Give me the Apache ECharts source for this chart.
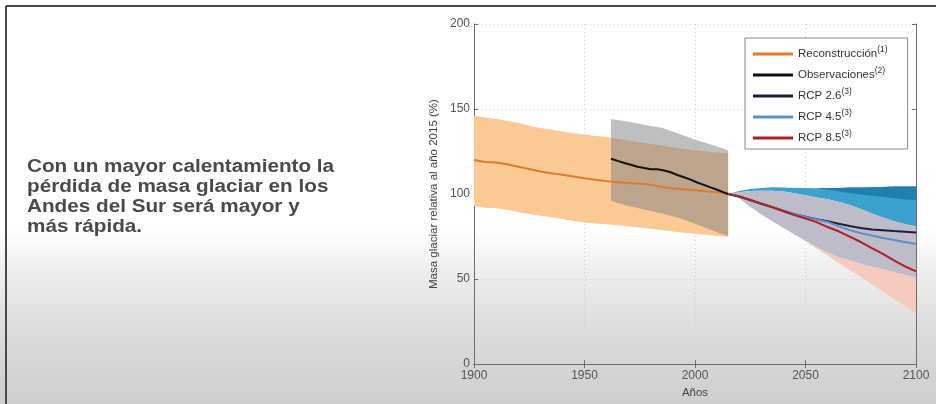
<!DOCTYPE html>
<html>
<head>
<meta charset="utf-8">
<script src="https://cdn.jsdelivr.net/npm/echarts@6/dist/echarts.min.js"></script>
<style>
    html, body { margin: 0; padding: 0; }
    body {
        width: 936px; height: 404px; overflow: hidden;
        background: linear-gradient(to bottom, #ffffff 0%, #ffffff 57%, #eeeeee 67%, #dcdcdc 82%, #cecece 100%);
    }
    #chart { width: 936px; height: 404px; }
</style>
</head>
<body>
<div id="chart"></div>
<script>
// 重建（1900-2015）
const reconYears = [1900, 1905, 1910, 1915, 1920, 1925, 1930, 1935, 1940, 1945, 1950, 1955, 1960, 1965, 1970, 1975, 1980, 1985, 1990, 1995, 2000, 2005, 2010, 2015]
const reconValues = [120, 118.8, 118.5, 117.5, 116, 114.7, 113.3, 112.2, 111.4, 110.3, 109.3, 108.4, 107.6, 107, 106.5, 106.1, 105.5, 104.2, 103.3, 102.8, 102.2, 101.6, 101, 100]
const reconUpper = [146, 145, 144.2, 143, 141.8, 140.2, 138.8, 137.8, 136.8, 135.8, 135, 134.2, 133.5, 132.5, 131.5, 130.5, 129.5, 128.5, 127.5, 126.5, 125.8, 125, 124.5, 124]
const reconLower = [93, 92, 91.7, 90.6, 89.4, 88.2, 87.3, 86.3, 85.3, 84.2, 83.3, 82.7, 82.2, 81.6, 81, 80.4, 79.6, 78.8, 78, 77.3, 76.7, 76, 75.3, 74.8]

// 观测（1962-2015）
const obsYears = [1962, 1965, 1968, 1971, 1974, 1977, 1980, 1983, 1986, 1989, 1992, 1995, 1998, 2001, 2004, 2007, 2010, 2013, 2015]
const obsValues = [120.8, 119.5, 118.3, 117.2, 116.1, 115.3, 114.6, 114.6, 113.9, 112.8, 111.2, 109.9, 108.5, 106.8, 105.4, 103.9, 102.5, 101, 100]
const obsBandYears = [1962, 1965, 1970, 1975, 1980, 1985, 1990, 1995, 2000, 2005, 2010, 2015]
const obsUpper = [144, 143.5, 142.5, 141.3, 140, 139, 136.6, 134.5, 132, 130, 128, 125.7]
const obsLower = [96, 94.7, 93, 91.5, 90, 88.5, 87, 85, 82.5, 80, 77.5, 75.5]

// 情景预测（2015-2100）
const projYears = [2015, 2020, 2025, 2030, 2035, 2040, 2045, 2050, 2055, 2060, 2065, 2070, 2075, 2080, 2085, 2090, 2095, 2100]
const rcp26 = [100, 98.6, 96.5, 94.3, 92.3, 90.2, 88.2, 86.6, 85.2, 84, 82.5, 81.2, 80, 79.2, 78.7, 78.2, 77.8, 77.4]
const rcp45 = [100, 98.6, 96.5, 94.3, 92.3, 90.2, 88.2, 86.6, 85, 83.6, 81, 78.8, 77, 75.6, 74.2, 73, 71.8, 70.6]
const rcp85 = [100, 98.6, 96.5, 94.3, 92.2, 89.9, 87.6, 85.6, 83.5, 80.6, 78.1, 75, 71.8, 68.2, 64.8, 61, 57.5, 54.5]
const greyUpper = [100, 101, 101.8, 102, 102, 101.5, 100.5, 99.3, 98, 97, 95.5, 93.5, 91.2, 88.5, 86.2, 84, 82.3, 81]
const greyLower = [100, 97.5, 92.5, 88, 84, 80, 76.2, 72.5, 69, 65.5, 63, 61, 59, 57.3, 55.8, 54.2, 52.6, 51]
const pinkLower = [100, 97.5, 92.5, 88, 84, 80, 76.2, 72.3, 68, 63.8, 59.5, 55.3, 51.2, 47, 42.7, 38.4, 34, 29.5]
const tealUpper = [100, 101.8, 103, 103.6, 104, 103.8, 103.6, 103.5, 103.4, 103.5, 103.6, 103.8, 103.9, 104, 104.2, 104.4, 104.5, 104.5]
const darkTealYears = [2055, 2060, 2065, 2070, 2075, 2080, 2085, 2090, 2095, 2100]
const darkTealUpper = [103.4, 103.5, 103.6, 103.8, 103.9, 104, 104.2, 104.4, 104.5, 104.5]
const darkTealLower = [103.2, 102.5, 101.5, 100.6, 99.8, 99, 98.2, 97.5, 96.8, 96.3]

// 图例
const legendNames = ['Reconstrucción', 'Observaciones', 'RCP 2.6', 'RCP 4.5', 'RCP 8.5']
const legendNotes = ['(1)', '(2)', '(3)', '(3)', '(3)']

const slideText = 'Con un mayor calentamiento la\npérdida de masa glaciar en los\nAndes del Sur será mayor y\nmás rápida.'

function pairs (xs, ys) {
    return xs.map((x, i) => [x, ys[i]])
}

// 用多边形画不确定性带
function band (xs, upper, lower, color, z) {
    return {
        type: 'custom',
        silent: true,
        z: z,
        data: [[xs[0], upper[0]]],
        renderItem: function (params, api) {
            let pts = []
            for (let i = 0; i < xs.length; i++) pts.push(api.coord([xs[i], upper[i]]))
            for (let i = xs.length - 1; i >= 0; i--) pts.push(api.coord([xs[i], lower[i]]))
            return { type: 'polygon', shape: { points: pts }, style: { fill: color } }
        }
    }
}

function line (name, xs, ys, color, z) {
    return {
        name: name,
        type: 'line',
        data: pairs(xs, ys),
        symbol: 'none',
        z: z,
        lineStyle: { color: color, width: 2 },
        itemStyle: { color: color }
    }
}

const axisText = { color: '#555', fontSize: 12, fontFamily: 'Liberation Sans', formatter: v => String(v) }
const frameLine = { show: true, lineStyle: { color: '#6e6e6e', width: 1 } }
const dotted = { show: true, lineStyle: { color: '#cfcfcf', type: [1, 3], width: 1 } }

let myChart = echarts.init(document.getElementById('chart'))
myChart.setOption({
    backgroundColor: 'transparent',
    animation: false,
    grid: { left: 474, top: 24, right: 20, bottom: 31 },
    graphic: [
        { type: 'line', shape: { x1: 6, y1: 6, x2: 936, y2: 6 }, style: { stroke: '#4a4a4a', lineWidth: 2 } },
        { type: 'line', shape: { x1: 6, y1: 6, x2: 6, y2: 404 }, style: { stroke: '#4a4a4a', lineWidth: 2 } },
        {
            type: 'text', left: 27, top: 157, scaleX: 1.15,
            style: {
                text: slideText, fill: '#4a4a4a',
                font: 'bold 18px "Liberation Sans"', lineHeight: 20
            }
        }
    ],
    xAxis: [
        {
            type: 'value', min: 1900, max: 2100, interval: 50,
            name: 'Años', nameLocation: 'middle', nameGap: 21,
            nameTextStyle: { color: '#444', fontSize: 11.5, fontFamily: 'Liberation Sans' },
            axisLine: frameLine,
            axisTick: { show: true, inside: true, length: 4, lineStyle: { color: '#6e6e6e' } },
            axisLabel: Object.assign({ margin: 6 }, axisText),
            splitLine: dotted
        },
        {
            type: 'value', position: 'top', min: 1900, max: 2100, interval: 50,
            axisLine: frameLine,
            axisTick: { show: true, inside: true, length: 4, lineStyle: { color: '#6e6e6e' } },
            axisLabel: { show: false },
            splitLine: { show: false }
        }
    ],
    yAxis: [
        {
            type: 'value', min: 0, max: 200, interval: 50,
            name: 'Masa glaciar relativa al año 2015 (%)', nameLocation: 'middle', nameGap: 34,
            nameTextStyle: { color: '#444', fontSize: 11.5, fontFamily: 'Liberation Sans' },
            axisLine: frameLine,
            axisTick: { show: true, inside: true, length: 4, lineStyle: { color: '#6e6e6e' } },
            axisLabel: Object.assign({ margin: 4 }, axisText),
            splitLine: dotted
        },
        {
            type: 'value', position: 'right', min: 0, max: 200, interval: 50,
            axisLine: frameLine,
            axisTick: { show: true, inside: true, length: 4, lineStyle: { color: '#6e6e6e' } },
            axisLabel: { show: false },
            splitLine: { show: false }
        }
    ],
    legend: {
        data: legendNames,
        orient: 'vertical',
        left: 745, top: 38,
        backgroundColor: '#fff',
        borderColor: '#888', borderWidth: 1,
        padding: [7, 20, 5, 8],
        itemGap: 6, itemWidth: 40, itemHeight: 3,
        icon: 'rect',
        formatter: function (name) {
            return '{t|' + name + '}{s|' + legendNotes[legendNames.indexOf(name)] + '}'
        },
        textStyle: {
            rich: {
                t: { fontSize: 11.5, color: '#333', fontFamily: 'Liberation Sans' },
                s: { fontSize: 8.5, color: '#333', fontFamily: 'Liberation Sans', padding: [0, 0, 9, 0] }
            }
        }
    },
    series: [
        band(reconYears, reconUpper, reconLower, '#fac994', 1),
        band(obsBandYears, obsUpper, obsLower, 'rgba(132,132,134,0.52)', 2),
        band(projYears, greyLower, pinkLower, '#f7cac0', 1),
        band(projYears, tealUpper, greyUpper, '#3ba2cd', 1),
        band(darkTealYears, darkTealUpper, darkTealLower, '#1f80b0', 2),
        band(projYears, greyUpper, greyLower, '#bdbcc8', 2),
        line('Reconstrucción', reconYears, reconValues, '#e07b28', 5),
        line('Observaciones', obsYears, obsValues, '#111111', 6),
        line('RCP 2.6', projYears, rcp26, '#1e1e3c', 6),
        line('RCP 4.5', projYears, rcp45, '#5a8fcc', 7),
        line('RCP 8.5', projYears, rcp85, '#ad1f24', 8)
    ]
})
window.addEventListener('resize', function () {
    myChart.resize()
})
</script>
</body>
</html>
